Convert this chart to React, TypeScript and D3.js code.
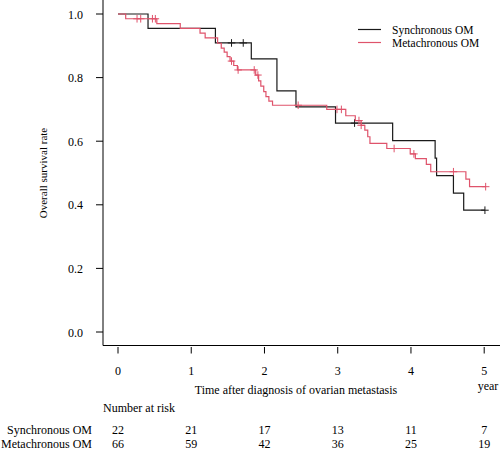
import React from "react";
import * as d3 from "d3";

const xTicks = [0, 1, 2, 3, 4, 5];
const yTicks = [0, 0.2, 0.4, 0.6, 0.8, 1.0];

const groups = ["Synchronous OM", "Metachronous OM"];
const colors = ["#1a1a1a", "#DF536B"];

// Synchronous OM: step times and survival after each step
const synTimes = [0.41, 1.33, 1.82, 2.17, 2.43, 2.97, 3.75, 4.33, 4.35, 4.58, 4.72];
const synSurv = [0.955, 0.909, 0.859, 0.758, 0.708, 0.657, 0.602, 0.547, 0.492, 0.437, 0.383];
const synCensor = [1.55, 1.71, 3.23, 5.01];
const synEnd = 5.01;

// Metachronous OM
const metTimes = [0.105, 0.53, 0.85, 1.12, 1.19, 1.36, 1.41, 1.45, 1.49, 1.53, 1.58, 1.63, 1.88, 1.92, 1.95, 1.99, 2.02, 2.06, 2.11, 2.85, 3.11, 3.24, 3.32, 3.37, 3.41, 3.44, 3.67, 3.99, 4.06, 4.21, 4.27, 4.75, 4.8];
const metSurv = [0.985, 0.97, 0.955, 0.94, 0.925, 0.908, 0.893, 0.88, 0.866, 0.852, 0.838, 0.824, 0.808, 0.79, 0.773, 0.756, 0.74, 0.726, 0.713, 0.7, 0.68, 0.665, 0.65, 0.635, 0.614, 0.593, 0.577, 0.56, 0.545, 0.527, 0.504, 0.481, 0.457];
const metCensor = [0.26, 0.31, 0.47, 0.51, 1.55, 1.64, 1.86, 1.91, 2.46, 2.99, 3.05, 3.29, 3.32, 3.77, 4.04, 4.58, 5.02];
const metEnd = 5.02;

const synRisk = [22, 21, 17, 13, 11, 7];
const metRisk = [66, 59, 42, 36, 25, 19];

const W = 500;
const H = 452;
const FONT = "'Liberation Serif', 'Times New Roman', serif";

const x = d3.scaleLinear().domain([0, 5]).range([118, 484.2]);
const y = d3.scaleLinear().domain([0, 1]).range([332, 14]);

function survAt(times: number[], surv: number[], t: number) {
  let s = 1;
  for (let i = 0; i < times.length; i++) if (times[i] <= t) s = surv[i];
  return s;
}

function stepPoints(times: number[], surv: number[], end: number): [number, number][] {
  const pts: [number, number][] = [[0, 1]];
  times.forEach((t, i) => pts.push([t, surv[i]]));
  pts.push([end, surv[surv.length - 1]]);
  return pts;
}

const line = d3
  .line<[number, number]>()
  .x((d) => x(d[0]))
  .y((d) => y(d[1]))
  .curve(d3.curveStepAfter);

const series = [
  { times: synTimes, surv: synSurv, cens: synCensor, end: synEnd },
  { times: metTimes, surv: metSurv, cens: metCensor, end: metEnd },
];

export default function App() {
  const axisX = 103;
  const axisY = 345.5;
  return (
    <svg
      width={W}
      height={H}
      style={{ position: "absolute", left: 0, top: 0, background: "#fff" }}
      fontFamily={FONT}
      fontSize={12}
    >
      <rect width={W} height={H} fill="#fff" />
      {/* L box */}
      <line x1={axisX} x2={axisX} y1={0} y2={axisY} stroke="#000" strokeWidth={1} />
      <line x1={axisX} x2={W} y1={axisY} y2={axisY} stroke="#000" strokeWidth={1} />
      {/* y axis */}
      {yTicks.map((t) => (
        <g key={t}>
          <line x1={96} x2={axisX} y1={y(t)} y2={y(t)} stroke="#000" />
          <text x={83} y={y(t) + 4.5} textAnchor="end">
            {t.toFixed(1)}
          </text>
        </g>
      ))}
      <text
        transform={`translate(47,${y(0.5)}) rotate(-90)`}
        textAnchor="middle"
        fontSize={11}
      >
        Overall survival rate
      </text>
      {/* x axis */}
      {xTicks.map((t) => (
        <g key={t}>
          <line x1={x(t)} x2={x(t)} y1={347} y2={353.5} stroke="#000" />
          <text x={x(t)} y={374.5} textAnchor="middle">
            {t}
          </text>
        </g>
      ))}
      <text x={296} y={393.5} textAnchor="middle">
        Time after diagnosis of ovarian metastasis
      </text>
      <text x={488} y={390} textAnchor="middle">
        year
      </text>
      {/* curves */}
      {series.map((s, i) => (
        <g key={i}>
          <path
            d={line(stepPoints(s.times, s.surv, s.end)) || ""}
            fill="none"
            stroke={colors[i]}
            strokeWidth={1.2}
          />
          {s.cens.map((c, j) => {
            const cx = x(c);
            const cy = y(survAt(s.times, s.surv, c));
            return (
              <g key={j} stroke={colors[i]} strokeWidth={1}>
                <line x1={cx} x2={cx} y1={cy - 3.8} y2={cy + 3.8} />
                <line x1={cx - 3.8} x2={cx + 3.8} y1={cy} y2={cy} />
              </g>
            );
          })}
        </g>
      ))}
      {/* legend */}
      {groups.map((g, i) => (
        <g key={g}>
          <line
            x1={358}
            x2={381}
            y1={29.5 + i * 13}
            y2={29.5 + i * 13}
            stroke={colors[i]}
            strokeWidth={1.2}
          />
          <text x={392} y={33.8 + i * 13} fontSize={11.5}>
            {g}
          </text>
        </g>
      ))}
      {/* risk table */}
      <text x={103} y={411.5}>
        Number at risk
      </text>
      {[synRisk, metRisk].map((row, i) => (
        <g key={i}>
          <text x={92} y={434 + i * 14} textAnchor="end">
            {groups[i]}
          </text>
          {row.map((v, j) => (
            <text key={j} x={x(xTicks[j])} y={434 + i * 14} textAnchor="middle">
              {v}
            </text>
          ))}
        </g>
      ))}
    </svg>
  );
}
